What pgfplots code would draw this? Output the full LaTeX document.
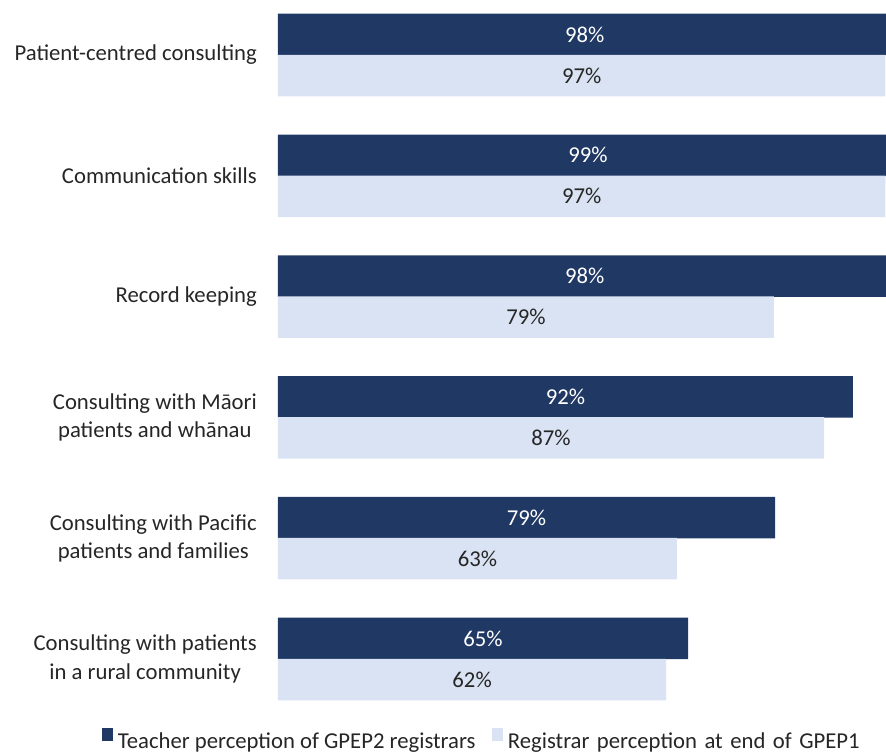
\documentclass[border=0pt]{standalone}
\usepackage{pgfplots}
\pgfplotsset{compat=1.18}
\usepackage{pgfplotstable}
\usepackage{fontspec}
\setmainfont{Carlito}
\definecolor{darkbar}{RGB}{32,56,100}
\definecolor{lightbar}{RGB}{218,227,243}
\definecolor{txt}{RGB}{38,38,38}
\newcommand{\cfont}{\fontsize{22.7bp}{28.5bp}\selectfont}
\pgfplotstableread{
y v lab
5 98 98
4 99 99
3 98 98
2 91.8 92
1 79.4 79
0 65.5 65
}\dark
\pgfplotstableread{
y v lab
5 97 97
4 97 97
3 79.2 79
2 87.2 87
1 63.7 63
0 62.0 62
}\light
\begin{document}
\begin{tikzpicture}
\begin{axis}[
  name=ax,
  scale only axis,
  width=608bp, height=712.7bp,
  xmin=0, xmax=97.1,
  ymin=-0.5, ymax=5.4,
  axis line style={draw=none},
  xtick=\empty,
  ytick={0,1,2,3,4,5},
  yticklabels={{Consulting with patients\\in a rural community},
    {Consulting with Pacific\\patients and families},
    {Consulting with M\=aori\\patients and wh\=anau},
    {Record keeping},{Communication skills},{Patient-centred consulting}},
  major tick length=0pt,
  yticklabel style={align=center, inner sep=0pt, xshift=-21bp, font=\cfont, text=txt},
  clip=true,
  legend style={at={(axis description cs:0.3372,-0.0289)}, anchor=center, draw=none,
    legend columns=2, font=\cfont, text=txt,
    nodes={inner xsep=4.5bp},
    /tikz/every even column/.append style={column sep=12bp}},
  legend image code/.code={\fill[#1] (0bp,0bp) rectangle (11.5bp,12.5bp);},
]
\addplot[xbar, bar width=41.5bp, bar shift=0pt, fill=darkbar, draw=none]
  table[x=v, y expr=\thisrow{y}+0.17] {\dark};
\addlegendentry{Teacher perception of GPEP2 registrars}
\addplot[xbar, bar width=41.5bp, bar shift=0pt, fill=lightbar, draw=none]
  table[x=v, y expr=\thisrow{y}-0.17] {\light};
\addlegendentry{{\spaceskip=0.33em Registrar perception at end of GPEP1}}
\addplot[draw=none, mark=none, forget plot,
  nodes near coords={\pgfmathprintnumber[assume math mode=true]{\pgfplotspointmeta}\%},
  point meta=\thisrow{lab},
  every node near coord/.style={anchor=center, text=white, font=\cfont}]
  table[x expr=\thisrow{v}/2, y expr=\thisrow{y}+0.17] {\dark};
\addplot[draw=none, mark=none, forget plot,
  nodes near coords={\pgfmathprintnumber[assume math mode=true]{\pgfplotspointmeta}\%},
  point meta=\thisrow{lab},
  every node near coord/.style={anchor=center, text=txt, font=\cfont}]
  table[x expr=\thisrow{v}/2, y expr=\thisrow{y}-0.17] {\light};
\end{axis}
\pgfresetboundingbox
\path[use as bounding box] ([xshift=-278bp, yshift=6.7bp]ax.north west) rectangle ([yshift=-33.6bp]ax.south east);
\end{tikzpicture}
\end{document}
